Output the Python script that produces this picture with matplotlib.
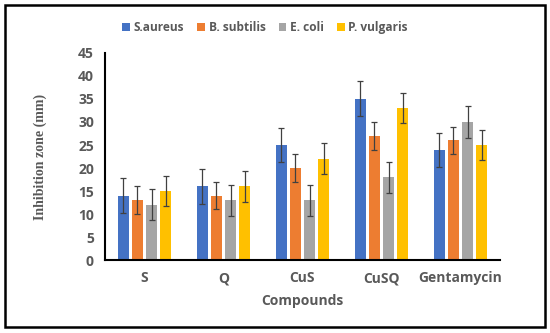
import numpy as np
import matplotlib.pyplot as plt
from matplotlib.patches import Rectangle

# Datos
compuestos = ['S', 'Q', 'CuS', 'CuSQ', 'Gentamycin']
bacterias = ['S.aureus', 'B. subtilis', 'E. coli', 'P. vulgaris']
s_aureus = [14, 16, 25, 35, 24]
b_subtilis = [13, 14, 20, 27, 26]
e_coli = [12, 13, 13, 18, 30]
p_vulgaris = [15, 16, 22, 33, 25]
err_s_aureus = [3.8, 3.8, 3.8, 3.8, 3.7]
err_b_subtilis = [3.0, 3.0, 3.0, 3.0, 3.0]
err_e_coli = [3.4, 3.4, 3.4, 3.4, 3.4]
err_p_vulgaris = [3.3, 3.3, 3.4, 3.3, 3.3]

series = [s_aureus, b_subtilis, e_coli, p_vulgaris]
errores = [err_s_aureus, err_b_subtilis, err_e_coli, err_p_vulgaris]
colores = ['#4472C4', '#ED7D31', '#A5A5A5', '#FFC000']

fig = plt.figure(figsize=(5.5, 3.33), dpi=100)
ax = fig.add_axes([0.191, 0.219, 0.718, 0.622])

x = np.arange(len(compuestos))
paso = 0.18
ancho = 0.14
for i, (vals, err, c, nom) in enumerate(zip(series, errores, colores, bacterias)):
    ax.bar(x + (i - 1.5) * paso, vals, ancho, color=c, label=nom,
           yerr=err, capsize=2.5, error_kw=dict(ecolor='#404040', elinewidth=0.9, capthick=0.9))

gris = '#595959'
ax.set_xlim(-0.5, 4.5)
ax.set_ylim(0, 45)
ax.set_yticks(np.arange(0, 46, 5))
ax.set_xticks(x)
ax.set_xticklabels(compuestos)
ax.tick_params(length=0, labelsize=10, labelcolor=gris, pad=8)
for t in ax.get_xticklabels() + ax.get_yticklabels():
    t.set_fontweight('bold')
    t.set_family('Open Sans')
for s in ['top', 'right']:
    ax.spines[s].set_visible(False)
for s in ['left', 'bottom']:
    ax.spines[s].set_linewidth(1.5)
    ax.spines[s].set_color('black')

ax.set_xlabel('Compounds', fontsize=10, fontweight='bold', color=gris, family='Open Sans', labelpad=6)
ax.set_ylabel('Inhibition zone (mm)', fontsize=10, fontweight='bold', color=gris,
              family='Liberation Serif', labelpad=22)

fig.legend(loc='center', bbox_to_anchor=(0.482, 0.918), ncol=4, frameon=False,
           handlelength=0.65, handleheight=0.65, handletextpad=0.3, columnspacing=1.1,
           prop=dict(family='Open Sans', weight='bold', size=8.6), labelcolor=gris)

fig.patches.append(Rectangle((0.009, 0.018), 0.982, 0.967, transform=fig.transFigure,
                             fill=False, edgecolor='black', linewidth=1.8))

plt.savefig('out.png', dpi=100)
